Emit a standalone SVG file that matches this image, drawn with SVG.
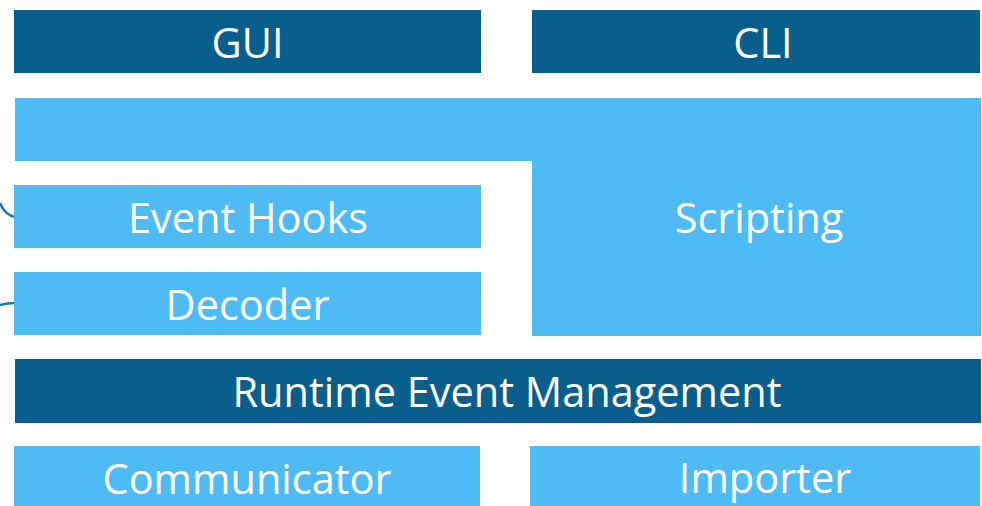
<svg xmlns="http://www.w3.org/2000/svg" width="982" height="506" viewBox="0 0 982 506">
<style>
.dark{fill:#0a5e8c}
.light{fill:#4fbbf5}
text{font-family:"Open Sans","Noto Sans",sans-serif;font-size:41.5px;fill:#ffffff;text-anchor:middle;dominant-baseline:central}
.conn{fill:none;stroke:#1a78b4;stroke-width:2.5}
</style>
<rect width="982" height="506" fill="#ffffff"/>
<g id="connectors">
<path class="conn" d="M0,203 Q5,215 15,217"/>
<path class="conn" d="M0,305 Q7,303 15,303"/>
</g>
<g id="gui"><rect class="dark" x="14" y="10" width="467" height="63"/><text x="247.5" y="42">GUI</text></g>
<g id="cli"><rect class="dark" x="532" y="10" width="448" height="63"/><text x="763" y="42">CLI</text></g>
<g id="scripting"><path class="light" d="M15,98 H981 V336 H532 V161 H15 Z"/><text x="759" y="217">Scripting</text></g>
<g id="event-hooks"><rect class="light" x="14" y="185" width="467" height="63"/><text x="248" y="217">Event Hooks</text></g>
<g id="decoder"><rect class="light" x="14" y="272" width="467" height="63"/><text x="247.5" y="304">Decoder</text></g>
<g id="runtime"><rect class="dark" x="15" y="359" width="966" height="64"/><text x="507" y="391">Runtime Event Management</text></g>
<g id="communicator"><rect class="light" x="14" y="446" width="466" height="60"/><text x="247" y="478">Communicator</text></g>
<g id="importer"><rect class="light" x="530" y="446" width="450" height="60"/><text x="765" y="477">Importer</text></g>
</svg>
